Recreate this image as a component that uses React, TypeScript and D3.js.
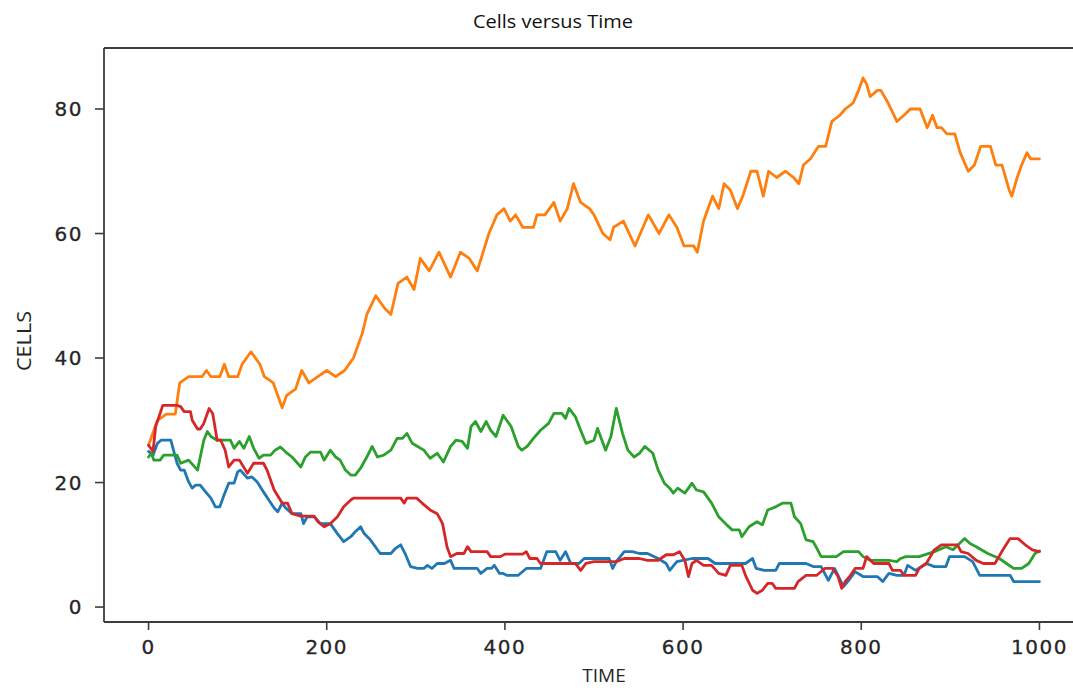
import React from "react";
import * as d3 from "d3";

const xTicks = [0, 200, 400, 600, 800, 1000];
const yTicks = [0, 20, 40, 60, 80];
const seriesNames = ["blue", "orange", "green", "red"];
const seriesColors = ["#1f77b4", "#ff7f0e", "#2ca02c", "#d62728"];

const blueSeries: [number, number][] = [
  [0,25],[5,24.4],[10,26.3],[14,26.8],[25,26.8],[28,25.2],[32,23.1],[36,22],[40,22],[45,20.1],[49,19.1],[53,19.6],[58,19.6],[64,18.5],[70,17.5],[75,16.1],[80,16.1],[84,17.7],[90,19.9],[96,19.9],[100,21.7],[103,22],[111,20.7],[116,20.9],[122,20.1],[129,18.5],[135,17.2],[141,15.9],[145,15.3],[150,16.7],[154,15.9],[161,15],[171,15],[174,13.4],[178,14.5],[186,14.5],[193,13.4],[204,13.4],[212,11.8],[219,10.5],[227,11.3],[232,12.1],[238,12.9],[242,11.8],[249,10.8],[257,9.2],[260,8.6],[272,8.6],[277,9.4],[283,10],[288,8.6],[294,6.5],[302,6.2],[309,6.2],[313,6.7],[318,6.2],[324,7],[332,7],[339,7.5],[343,6.2],[369,6.2],[373,5.4],[380,6.2],[385,6.2],[388,6.7],[394,5.4],[398,5.4],[402,5.1],[415,5.1],[424,6.2],[440,6.2],[447,8.9],[457,8.9],[462,7.5],[468,8.9],[474,7],[483,7],[489,7.8],[517,7.8],[521,6.2],[525,7.3],[534,8.9],[543,8.9],[551,8.6],[560,8.6],[572,7.8],[581,7],[585,5.9],[593,7.3],[610,7.8],[628,7.8],[636,7],[670,7],[678,7.8],[682,6.2],[691,5.9],[704,5.9],[708,7],[738,7],[746,6.5],[755,6.5],[763,4.3],[770,6.2],[780,3.3],[786,4.3],[793,5.7],[802,4.9],[818,4.9],[824,4.1],[831,5.4],[840,5.1],[848,5.1],[852,6.7],[861,5.9],[873,7],[882,6.5],[895,6.5],[899,8.1],[916,8.1],[925,7.3],[933,5.1],[967,5.1],[971,4.1],[1000,4.1]
];

const orangeSeries: [number, number][] = [
  [0,26],[5,28],[10,30],[20,31],[30,31],[35,36],[45,37],[60,37],[65,38],[70,37],[80,37],[85,39],[90,37],[100,37],[105,39],[115,41],[125,39],[130,37],[140,36],[150,32],[155,34],[165,35],[172,38],[180,36],[190,37],[200,38],[210,37],[220,38],[230,40],[240,44],[245,47],[255,50],[265,48],[272,47],[280,52],[290,53],[298,51],[305,56],[315,54],[326,57],[339,53],[350,57],[360,56],[369,54],[382,60],[391,63],[399,64],[406,62],[412,63],[420,61],[432,61],[436,63],[445,63],[455,65],[462,62],[470,64],[477,68],[485,65],[495,64],[500,63],[510,60],[518,59],[522,61],[533,62],[546,58],[555,61],[561,63],[573,60],[584,63],[593,61],[601,58],[612,58],[616,57],[623,62],[633,66],[640,64],[646,68],[653,67],[661,64],[667,66],[676,70],[683,70],[690,66],[696,70],[705,69],[715,70],[724,69],[730,68],[735,71],[743,72],[752,74],[760,74],[767,78],[776,79],[782,80],[791,81],[797,83],[802,85],[806,84],[810,82],[818,83],[822,83],[830,81],[840,78],[848,79],[855,80],[866,80],[874,77],[880,79],[885,77],[890,77],[896,76],[905,76],[911,73],[920,70],[927,71],[934,74],[945,74],[951,71],[958,71],[966,67],[969,66],[975,69],[980,71],[986,73],[990,72],[997,72],[1000,72]
];

const greenSeries: [number, number][] = [
  [0,24.1],[3,24.7],[6,23.6],[13,23.6],[17,24.4],[32,24.4],[36,23.1],[45,23.6],[55,22],[62,26.8],[66,28.2],[70,27.4],[77,26.8],[92,26.8],[96,25.5],[102,26.6],[107,25.5],[113,27.4],[118,25.5],[124,23.9],[129,24.4],[137,24.4],[142,25.2],[148,25.7],[154,24.9],[161,24.1],[171,22.5],[176,24.1],[182,24.9],[193,24.9],[197,23.6],[204,25.2],[210,24.1],[215,23.6],[221,22],[227,21.2],[232,21.2],[238,22.3],[245,24.1],[251,25.8],[257,24.1],[264,24.4],[272,25.2],[279,27.1],[285,27.1],[290,27.9],[296,26.3],[302,25.8],[309,25.2],[316,23.9],[324,24.7],[331,23.3],[339,25.8],[345,26.8],[352,26.6],[358,25.5],[362,29],[367,29.8],[373,28.2],[379,29.8],[384,28.4],[390,27.4],[398,30.8],[407,29],[415,25.8],[419,25.2],[425,25.8],[432,27.1],[440,28.4],[449,29.5],[455,31.1],[464,31.1],[468,30.3],[472,31.9],[479,30.6],[485,28.4],[491,26.3],[500,26.8],[504,28.7],[513,25.2],[519,27.4],[525,31.9],[532,27.9],[538,25.2],[545,24.1],[551,24.7],[557,25.8],[566,24.7],[572,22],[579,19.9],[585,19.1],[589,18.3],[594,19.1],[602,18.3],[610,19.9],[615,18.8],[623,18.5],[632,16.7],[640,14.5],[649,13.2],[655,12.4],[663,12.4],[666,11.3],[674,12.9],[683,13.7],[689,13.2],[695,15.6],[704,16.1],[712,16.7],[721,16.7],[725,14.5],[732,13.4],[738,10.8],[746,10.5],[751,9.2],[755,8.1],[772,8.1],[780,8.9],[797,8.9],[802,8.1],[810,7.5],[831,7.5],[840,7.3],[844,7.8],[850,8.1],[865,8.1],[882,8.9],[895,9.7],[903,9.2],[916,11],[922,10.2],[929,9.7],[942,8.6],[955,7.8],[963,7],[971,6.2],[980,6.2],[988,7],[995,8.6],[1000,9]
];

const redSeries: [number, number][] = [
  [0,26],[5,25],[8,29],[16,32.4],[32,32.4],[36,32.2],[40,31.4],[47,31.4],[49,30],[55,28.6],[58,28.6],[62,29.5],[68,31.9],[72,31.1],[77,26.8],[81,26.8],[86,25.2],[90,22.5],[96,23.6],[102,23.6],[111,21.5],[118,23.1],[129,23.1],[133,22],[141,18.8],[150,16.7],[156,16.7],[161,15],[171,14.6],[186,14.6],[190,13.7],[197,12.9],[204,13.4],[212,14.5],[219,16.1],[227,17.2],[230,17.5],[283,17.5],[287,16.7],[290,17.5],[301,17.5],[307,16.7],[316,15.6],[324,15],[330,13.4],[335,9.7],[339,8.1],[346,8.6],[354,8.6],[358,9.7],[362,8.9],[380,8.9],[384,8.1],[395,8.1],[400,8.5],[420,8.5],[424,8.9],[428,7.8],[436,7.8],[440,7],[479,7],[485,5.9],[491,7],[500,7.3],[525,7.3],[534,7.8],[551,7.8],[560,7.5],[572,7.5],[581,8.4],[589,8.4],[596,8.9],[602,7.5],[606,4.9],[610,7],[615,7.5],[623,6.7],[632,6.7],[640,5.4],[648,5.1],[653,6.7],[666,6.7],[670,5.1],[678,2.7],[683,2.2],[689,2.7],[695,3.8],[700,3.8],[704,3],[725,3],[729,4.1],[738,5.1],[750,5.1],[759,6.2],[768,6.2],[774,4.9],[778,3],[782,4.1],[787,4.9],[793,6.2],[802,6.2],[806,8.1],[814,7],[831,7],[835,5.9],[844,5.9],[848,5.1],[861,5.1],[865,6.2],[873,7],[882,9.2],[890,10],[908,10],[912,8.9],[920,8.6],[929,7.5],[937,7],[950,7],[959,9.2],[967,11],[976,11],[984,10],[992,9.2],[1000,8.9]
];

const allSeries = [blueSeries, orangeSeries, greenSeries, redSeries];

const W = 1073;
const H = 688;
const plotLeft = 104;
const plotRight = 1084;
const plotTop = 48;
const plotBottom = 622;

export default function App() {
  const x = d3.scaleLinear().domain([-50, 1050]).range([plotLeft, plotRight]);
  const y = d3.scaleLinear().domain([-2.4, 89.8]).range([plotBottom, plotTop]);
  const line = d3
    .line<[number, number]>()
    .x((d) => x(d[0]))
    .y((d) => y(d[1]))
    .curve(d3.curveLinear);

  const axisColor = "#3c3c3c";
  const tickFont = "'DejaVu Sans', Verdana, sans-serif";
  const labelFont = "'Open Sans', 'Noto Sans', sans-serif";

  return (
    <svg
      width={W}
      height={H}
      style={{ position: "absolute", left: 0, top: 0, background: "#fff" }}
    >
      <rect x={0} y={0} width={W} height={H} fill="#fff" />
      <text
        x={553}
        y={28}
        textAnchor="middle"
        fontFamily={labelFont}
        fontSize={18}
        fill="#111"
        textLength={160}
        lengthAdjust="spacingAndGlyphs"
      >
        Cells versus Time
      </text>

      <g>
        {allSeries.map((s, i) => (
          <path
            key={seriesNames[i]}
            d={line(s) || ""}
            fill="none"
            stroke={seriesColors[i]}
            strokeWidth={2.8}
            strokeLinejoin="round"
            strokeLinecap="round"
          />
        ))}
      </g>

      {/* spines */}
      <line x1={plotLeft} x2={W} y1={plotTop} y2={plotTop} stroke={axisColor} strokeWidth={1.8} />
      <line x1={plotLeft} x2={plotLeft} y1={plotTop} y2={plotBottom} stroke={axisColor} strokeWidth={1.8} />
      <line x1={plotLeft} x2={W} y1={plotBottom} y2={plotBottom} stroke={axisColor} strokeWidth={1.8} />

      {/* y ticks */}
      {yTicks.map((t) => (
        <g key={"y" + t}>
          <line x1={plotLeft - 9} x2={plotLeft} y1={y(t)} y2={y(t)} stroke={axisColor} strokeWidth={1.6} />
          <text
            x={83}
            y={y(t)}
            dy="0.36em"
            textAnchor="end"
            fontFamily={tickFont}
            fontSize={20}
            letterSpacing={1.5}
            fill="#262626"
            stroke="#262626"
            strokeWidth={0.3}
          >
            {t}
          </text>
        </g>
      ))}

      {/* x ticks */}
      {xTicks.map((t) => (
        <g key={"x" + t}>
          <line x1={x(t)} x2={x(t)} y1={plotBottom} y2={plotBottom + 8} stroke={axisColor} strokeWidth={1.6} />
          <text
            x={x(t)}
            y={654}
            textAnchor="middle"
            fontFamily={tickFont}
            fontSize={20}
            letterSpacing={1.5}
            fill="#262626"
            stroke="#262626"
            strokeWidth={0.3}
          >
            {t}
          </text>
        </g>
      ))}

      <text
        x={604}
        y={682}
        textAnchor="middle"
        fontFamily={labelFont}
        fontSize={19}
        fill="#262626"
      >
        TIME
      </text>
      <text
        transform="translate(31,341) rotate(-90)"
        textAnchor="middle"
        fontFamily={labelFont}
        fontSize={20}
        fill="#262626"
        textLength={60}
        lengthAdjust="spacingAndGlyphs"
      >
        CELLS
      </text>
    </svg>
  );
}
